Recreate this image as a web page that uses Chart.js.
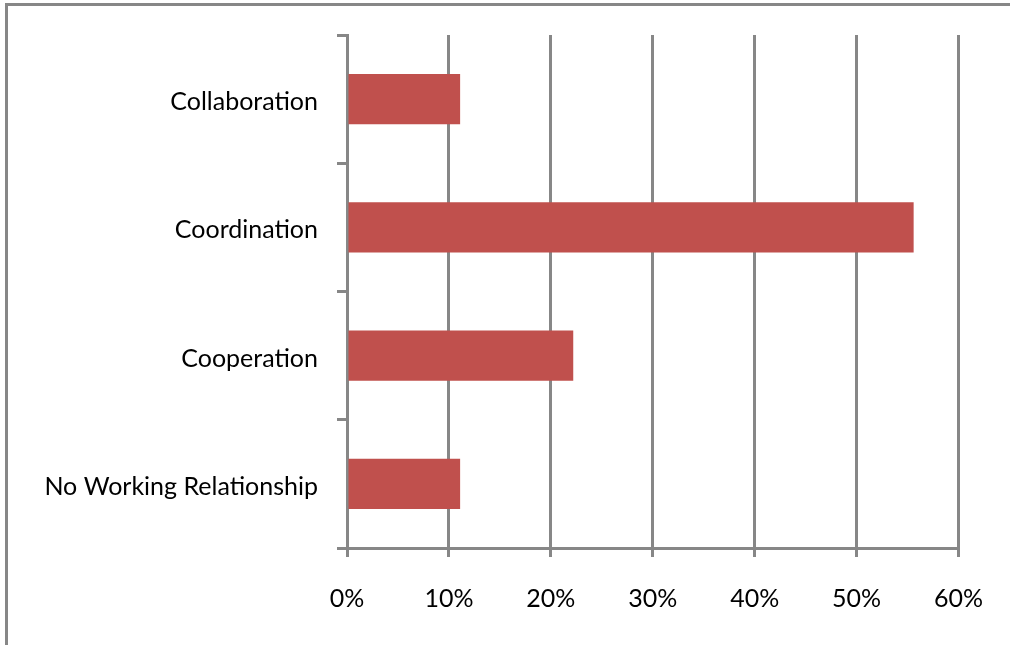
<!DOCTYPE html>
<html>
<head>
<meta charset="utf-8">
<script src="https://cdn.jsdelivr.net/npm/chart.js@4"></script>
<style>
  html, body { margin: 0; padding: 0; background: #fff; }
  #wrap { position: relative; width: 1010px; height: 645px; overflow: hidden; }
  #frame {
    position: absolute; left: 5px; top: 3px; width: 1010px; height: 640px;
    border-top: 3px solid #878787; border-left: 3px solid #878787;
    border-bottom: 1px solid #e4e4e4;
  }
  #chart { position: absolute; left: 0; top: 0; }
</style>
</head>
<body>
<div id="wrap">
  <div id="frame"></div>
  <canvas id="chart" width="1010" height="645"></canvas>
</div>
<script>
// categories, top to bottom
const categories = ["Collaboration", "Coordination", "Cooperation", "No Working Relationship"];
// share of responses (%)
const shares = [11.1, 55.6, 22.2, 11.1];
// x axis ticks (%)
const xTicks = [0, 10, 20, 30, 40, 50, 60];

const gridGray = "#878787";
const labelFont = { family: "Lato, 'Noto Sans', sans-serif", size: 25 };

const ctx = document.getElementById("chart").getContext("2d");

new Chart(ctx, {
  type: "bar",
  data: {
    labels: categories,
    datasets: [{
      data: shares,
      backgroundColor: "#C0504D",
      barPercentage: 0.39,
      categoryPercentage: 1
    }]
  },
  options: {
    indexAxis: "y",
    responsive: false,
    animation: false,
    layout: { padding: { left: 0, top: 35, right: 50, bottom: 0 } },
    plugins: { legend: { display: false }, tooltip: { enabled: false } },
    scales: {
      x: {
        min: 0,
        max: 60,
        afterBuildTicks: scale => { scale.ticks = xTicks.map(v => ({ value: v })); },
        afterFit: scale => { scale.height = 97; },
        grid: { color: gridGray, lineWidth: 3, tickLength: 9, drawTicks: true },
        border: { color: gridGray, width: 3 },
        ticks: {
          color: "#000",
          font: labelFont,
          padding: 27,
          callback: v => v + "%"
        }
      },
      y: {
        afterFit: scale => { scale.width = 347; },
        grid: { offset: true, drawOnChartArea: false, color: gridGray, lineWidth: 3, tickLength: 10 },
        border: { color: gridGray, width: 3 },
        ticks: { color: "#000", font: labelFont, padding: 19, labelOffset: 3 }
      }
    }
  }
});
</script>
</body>
</html>
